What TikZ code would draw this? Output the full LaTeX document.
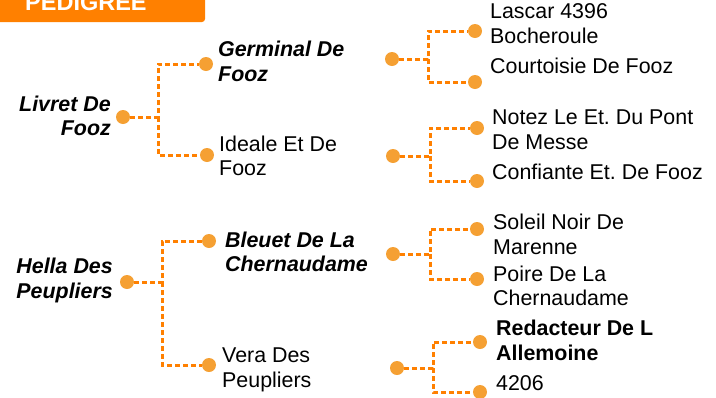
\documentclass[tikz,border=0pt]{standalone}
\usepackage{fontspec}
\setmainfont{Liberation Sans}
\usetikzlibrary{positioning}
\definecolor{pedorange}{HTML}{FF8000}
\definecolor{dotorange}{HTML}{F5A033}
\frenchspacing

\begin{document}
\begin{tikzpicture}[
  x=1pt, y=-1pt,
  every node/.style={font=\fontsize{21.4}{24.5}\selectfont},
  dot/.style={circle, fill=dotorange, inner sep=0pt, minimum size=14pt},
  link/.style={draw=pedorange, line width=3pt, dash pattern=on 5pt off 3pt},
  sire/.style={anchor=west, align=left, inner sep=0pt, font=\fontsize{21.4}{24.5}\selectfont\bfseries\itshape},
  root/.style={anchor=east, align=right, inner sep=0pt, font=\fontsize{21.4}{24.5}\selectfont\bfseries\itshape},
  dam/.style={anchor=west, align=left, inner sep=0pt},
  title/.style={anchor=base west, inner sep=0pt, text=white, font=\fontsize{23.5}{26}\selectfont\bfseries},
]
  \useasboundingbox (0,0) rectangle (716,397);

  % header
  \fill[pedorange, rounded corners=3pt] (-10,-10) rectangle (205,22);
  \node[title] (pedigree) at (25,10) {PEDIGREE};

  % first generation
  \node[root] (livret) at (111,116) {Livret De\\Fooz};
  \node[root] (hella) at (113,280.5) {Hella Des\\Peupliers};
  \node[dot] (livretdot) at (123,117) {};
  \node[dot] (helladot) at (127,282) {};

  % second generation
  \node[dot] (germinaldot) at (206,64) {};
  \node[dot] (idealedot) at (207,155) {};
  \node[dot] (bleuetdot) at (209,241) {};
  \node[dot] (veradot) at (209,365) {};
  \node[sire] (germinal) at (218,61.5) {Germinal De\\Fooz};
  \node[dam] (ideale) at (219,156) {Ideale Et De\\Fooz};
  \node[sire] (bleuet) at (225,252) {Bleuet De La\\Chernaudame};
  \node[dam] (vera) at (222,370) {Vera Des\\Peupliers};

  % third generation
  \node[dot] (germinalout) at (392,59) {};
  \node[dot] (idealeout) at (393,156) {};
  \node[dot] (bleuetout) at (393,254) {};
  \node[dot] (veraout) at (397,368) {};
  \node[dot] (lascardot) at (475,31) {};
  \node[dot] (courtoisiedot) at (475,82) {};
  \node[dot] (notezdot) at (477,128) {};
  \node[dot] (confiantedot) at (477,181) {};
  \node[dot] (soleildot) at (477,229) {};
  \node[dot] (poiredot) at (477,279) {};
  \node[dot] (redacteurdot) at (480,342) {};
  \node[dot] (numdot) at (480,392) {};
  \node[dam] (lascar) at (490,23.5) {Lascar 4396\\Bocheroule};
  \node[dam] (courtoisie) at (490,66) {Courtoisie De Fooz};
  \node[dam] (notez) at (492,129.5) {Notez Le Et. Du Pont\\De Messe};
  \node[dam] (confiante) at (492,172) {Confiante Et. De Fooz};
  \node[dam] (soleil) at (493,234.5) {Soleil Noir De\\Marenne};
  \node[dam] (poire) at (493,286) {Poire De La\\Chernaudame};
  \node[dam, font=\fontsize{21.4}{24.5}\selectfont\bfseries] (redacteur) at (496,340.5) {Redacteur De L\\Allemoine};
  \node[dam] (num) at (496,383) {4206};

  % forks
  \coordinate (livretfork) at (158,117);
  \coordinate (hellafork) at (162,282);
  \coordinate (germinalfork) at (428,59);
  \coordinate (idealefork) at (430,156);
  \coordinate (bleuetfork) at (430,254);
  \coordinate (verafork) at (433,368);

  \draw[link] (livretdot) -- (livretfork) |- (germinaldot);
  \draw[link] (livretfork) |- (idealedot);
  \draw[link] (helladot) -- (hellafork) |- (bleuetdot);
  \draw[link] (hellafork) |- (veradot);
  \draw[link] (germinalout) -- (germinalfork) |- (lascardot);
  \draw[link] (germinalfork) |- (courtoisiedot);
  \draw[link] (idealeout) -- (idealefork) |- (notezdot);
  \draw[link] (idealefork) |- (confiantedot);
  \draw[link] (bleuetout) -- (bleuetfork) |- (soleildot);
  \draw[link] (bleuetfork) |- (poiredot);
  \draw[link] (veraout) -- (verafork) |- (redacteurdot);
  \draw[link] (verafork) |- (numdot);
\end{tikzpicture}
\end{document}
